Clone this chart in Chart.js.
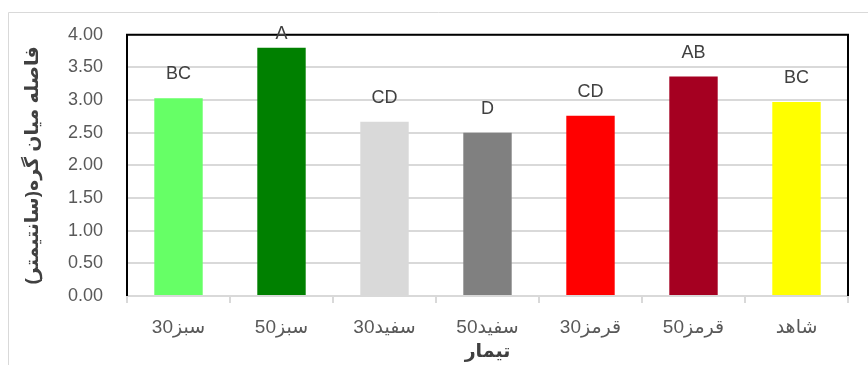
<!DOCTYPE html>
<html lang="fa">
<head>
    <meta charset="UTF-8">
    <title>فاصله میان گره</title>
    <script src="https://cdn.jsdelivr.net/npm/chart.js"></script>
    <style>
        body { margin: 0; background: #fff; }
        #wrap { position: relative; width: 868px; height: 365px; }
    </style>
</head>
<body>
    <div id="wrap"><canvas id="chart"></canvas></div>

    <script>
        const treatments = ['سبز30', 'سبز50', 'سفید30', 'سفید50', 'قرمز30', 'قرمز50', 'شاهد'];
        const values = [3.03, 3.80, 2.67, 2.50, 2.76, 3.36, 2.97];
        const groups = ['BC', 'A', 'CD', 'D', 'CD', 'AB', 'BC'];
        const barColors = ['#66ff66', '#008000', '#d9d9d9', '#808080', '#ff0000', '#a50021', '#ffff00'];
        const yTicks = [0, 0.5, 1, 1.5, 2, 2.5, 3, 3.5, 4];

        const fontFamily = '"Liberation Sans", "DejaVu Sans", sans-serif';

        // outer frame + black border round the plot area + letter labels
        const decorations = {
            id: 'decorations',
            beforeDraw(chart) {
                const ctx = chart.ctx;
                ctx.save();
                ctx.strokeStyle = '#d9d9d9';
                ctx.lineWidth = 1;
                ctx.beginPath();
                ctx.moveTo(8.5, 365);
                ctx.lineTo(8.5, 12.5);
                ctx.lineTo(868, 12.5);
                ctx.stroke();
                ctx.restore();
            },
            afterDatasetsDraw(chart) {
                const ctx = chart.ctx;
                const area = chart.chartArea;
                ctx.save();
                ctx.strokeStyle = '#000';
                ctx.lineWidth = 2;
                ctx.beginPath();
                ctx.moveTo(area.left, area.bottom);
                ctx.lineTo(area.left, area.top);
                ctx.lineTo(area.right, area.top);
                ctx.lineTo(area.right, area.bottom);
                ctx.stroke();

                ctx.fillStyle = '#404040';
                ctx.font = '18px ' + fontFamily;
                ctx.textAlign = 'center';
                ctx.textBaseline = 'middle';
                chart.getDatasetMeta(0).data.forEach((bar, i) => {
                    const y = Math.max(bar.y - 24, area.top - 1);
                    ctx.fillText(groups[i], bar.x, y);
                });
                ctx.restore();
            }
        };

        new Chart(document.getElementById('chart'), {
            type: 'bar',
            data: {
                labels: treatments,
                datasets: [{
                    data: values,
                    backgroundColor: barColors,
                    categoryPercentage: 1,
                    barPercentage: 0.47
                }]
            },
            options: {
                responsive: true,
                maintainAspectRatio: false,
                animation: false,
                layout: { padding: { left: 0, top: 32, right: 20, bottom: 0 } },
                plugins: {
                    legend: { display: false },
                    tooltip: { enabled: false }
                },
                scales: {
                    x: {
                        afterFit(scale) { scale.height = 69; },
                        grid: {
                            drawOnChartArea: false,
                            drawTicks: true,
                            tickLength: 7,
                            color: '#d9d9d9',
                            lineWidth: 2
                        },
                        border: { color: '#d9d9d9', width: 2 },
                        ticks: {
                            color: '#595959',
                            padding: 13,
                            font: { size: 19, family: fontFamily }
                        },
                        title: {
                            display: true,
                            text: 'تیمار',
                            color: '#404040',
                            padding: { top: 0, bottom: 2 },
                            font: { size: 19, weight: 'bold', family: fontFamily }
                        }
                    },
                    y: {
                        min: 0,
                        max: 4,
                        afterFit(scale) { scale.width = 127; },
                        afterBuildTicks(scale) {
                            scale.ticks = yTicks.map(v => ({ value: v }));
                        },
                        grid: {
                            drawTicks: false,
                            color: '#d9d9d9',
                            lineWidth: 2
                        },
                        border: { display: false },
                        ticks: {
                            color: '#595959',
                            padding: 24,
                            font: { size: 18, family: fontFamily },
                            callback: v => Number(v).toFixed(2)
                        },
                        title: {
                            display: true,
                            text: 'فاصله میان گره(سانتیمتر)',
                            color: '#404040',
                            padding: { top: 21, bottom: 0 },
                            font: { size: 19, weight: 'bold', family: fontFamily }
                        }
                    }
                }
            },
            plugins: [decorations]
        });
    </script>
</body>
</html>
